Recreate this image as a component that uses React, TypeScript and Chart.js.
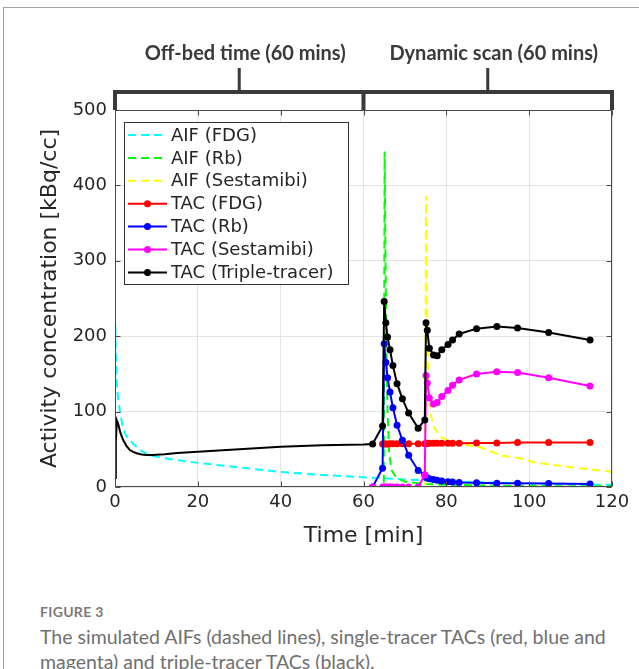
import React, { useEffect, useRef } from "react";
import { Chart, registerables } from "chart.js";

Chart.register(...registerables);

// ---------- data ----------
const xTicks = [0, 20, 40, 60, 80, 100, 120];
const yTicks = [0, 100, 200, 300, 400, 500];

const aifFdgTime = [0, 0.05, 0.2, 0.4, 0.8, 1.2, 1.8, 2.4, 3.2, 4.3, 6, 8.4, 12, 20, 30, 40, 50, 60, 70, 80, 90, 100, 110, 120];
const aifFdgValue = [0, 218, 175, 140, 115, 100, 82, 71, 64, 58, 49, 42, 38, 32, 26, 20, 16, 13, 10, 7.5, 6, 4.5, 3.5, 3];

const aifRbTime = [0, 64.9, 65.1, 65.3, 65.5, 65.8, 66.2, 66.8, 68, 70, 75, 80, 90, 100, 110, 120];
const aifRbValue = [0, 0, 445, 310, 190, 100, 45, 22, 12, 7, 4, 3, 2, 1.5, 1, 1];

const aifSestamibiTime = [0, 74.9, 75.1, 75.3, 75.6, 76, 76.9, 78.5, 81.7, 85.7, 88, 91, 93, 97.8, 101.8, 112.3, 120];
const aifSestamibiValue = [0, 0, 386, 250, 150, 102, 80, 67, 58, 55, 53, 47, 42, 38, 32, 25, 20];

// dynamic-scan frame mid times (min)
const frameTimes = [62.2, 64.6, 65.0, 65.4, 65.8, 66.4, 67.1, 68.1, 69.4, 70.9, 73.2, 74.8, 75.1, 75.4, 75.9, 76.9, 77.8, 78.9, 80.4, 81.5, 83.1, 87.3, 92.2, 97.2, 104.7, 114.7];
const tacFdg = [null, 57, 57, 57, 57, 57.5, 57.5, 57.5, 57.5, 57.5, 57.5, 57.5, 57.5, 58, 58, 58, 58, 58, 58, 58, 58, 58.5, 58.5, 59, 59, 59];
const tacRb = [0, 25, 190, 165, 145, 126, 105, 82, 62, 42, 22, 16, 13, 12, 11, 10, 9, 8, 7, 6.5, 6, 5.5, 5, 5, 4.5, 4];
const tacSestamibi = [0, 0, 0, 0, 0, 0, 0, 0, 0, 0, 0, 16, 148, 138, 118, 110, 112, 120, 128, 135, 142, 150, 153, 152, 145, 134];
const tacTriple = [57, 81, 246, 218, 199, 182, 161, 137, 117, 98, 78, 89, 218, 208, 184, 175, 174, 182, 189, 195, 203, 210, 213, 211, 205, 195];

// off-bed period (continuous triple-tracer curve, = FDG only)
const tripleEarlyTime = [0, 0.2, 0.45, 0.8, 1.3, 2, 2.8, 3.6, 4.4, 5.2, 6.4, 7.6, 9, 12, 15, 20, 30, 40, 50, 60];
const tripleEarlyValue = [12, 60, 88, 83, 72, 62, 54, 49, 46.5, 44.7, 43.2, 42.4, 42.5, 43.5, 45, 46.8, 50, 53.5, 55.5, 56.5];

const legendLabels = [
  "AIF (FDG)",
  "AIF (Rb)",
  "AIF (Sestamibi)",
  "TAC (FDG)",
  "TAC (Rb)",
  "TAC (Sestamibi)",
  "TAC (Triple-tracer)",
];
const seriesColors = ["#00ffff", "#00ff00", "#ffff00", "#ff0000", "#0000ff", "#ff00ff", "#000000"];
const seriesDashed = [true, true, true, false, false, false, false];

const bracketLabels = ["Off-bed time (60 mins)", "Dynamic scan (60 mins)"];
const bracketBounds = [0, 60, 120];

// ---------- helpers ----------
const pts = (xs: number[], ys: (number | null)[]) => xs.map((x, i) => ({ x, y: ys[i] }));
const DASH = [8, 5];

const overlayPlugin = {
  id: "overlay",
  afterDraw(chart: any) {
    const { ctx, chartArea: ca, scales } = chart;
    const xs = scales.x;
    const ys = scales.y;
    ctx.save();
    // box
    ctx.strokeStyle = "#4a4a4a";
    ctx.lineWidth = 1;
    ctx.setLineDash([]);
    const L = Math.round(ca.left) + 0.5;
    const R = Math.round(ca.right) - 0.5;
    const T = Math.round(ca.top) + 0.5;
    const B = Math.round(ca.bottom) - 0.5;
    ctx.strokeRect(L, T, R - L, B - T);
    // inward ticks
    ctx.beginPath();
    xTicks.forEach((v) => {
      const px = Math.round(xs.getPixelForValue(v)) + 0.5;
      ctx.moveTo(px, B);
      ctx.lineTo(px, B - 5);
      ctx.moveTo(px, T);
      ctx.lineTo(px, T + 5);
    });
    yTicks.forEach((v) => {
      const py = Math.round(ys.getPixelForValue(v)) + 0.5;
      ctx.moveTo(L, py);
      ctx.lineTo(L + 5, py);
      ctx.moveTo(R, py);
      ctx.lineTo(R - 5, py);
    });
    ctx.stroke();

    // bracket
    const p = bracketBounds.map((v) => xs.getPixelForValue(v));
    const by = ca.top - 18;
    ctx.strokeStyle = "#3a3a3a";
    ctx.lineWidth = 4;
    ctx.lineCap = "butt";
    ctx.beginPath();
    ctx.moveTo(p[0], ca.top);
    ctx.lineTo(p[0], by);
    ctx.lineTo(p[2], by);
    ctx.lineTo(p[2], ca.top);
    ctx.moveTo(p[1], by);
    ctx.lineTo(p[1], ca.top);
    ctx.stroke();
    ctx.lineWidth = 3;
    ctx.beginPath();
    for (let i = 0; i < 2; i++) {
      const mx = (p[i] + p[i + 1]) / 2;
      ctx.moveTo(mx, by);
      ctx.lineTo(mx, by - 24);
    }
    ctx.stroke();
    ctx.fillStyle = "#3a3a3a";
    ctx.font = "bold 20px Lato";
    ctx.textAlign = "center";
    ctx.textBaseline = "middle";
    for (let i = 0; i < 2; i++) {
      const mx = (p[i] + p[i + 1]) / 2;
      ctx.fillText(bracketLabels[i], mx + 6, by - 38);
    }

    // legend
    const lx = Math.round(ca.left) + 9;
    const ly = Math.round(ca.top) + 12;
    const lw = 224;
    const lh = 162;
    ctx.fillStyle = "#ffffff";
    ctx.fillRect(lx, ly, lw, lh);
    ctx.strokeStyle = "#333333";
    ctx.lineWidth = 1;
    ctx.strokeRect(lx + 0.5, ly + 0.5, lw, lh);
    ctx.font = "18px 'DejaVu Sans'";
    ctx.textAlign = "left";
    ctx.textBaseline = "middle";
    legendLabels.forEach((lab, i) => {
      const yy = ly + 13 + i * 22.9;
      ctx.strokeStyle = seriesColors[i];
      ctx.lineWidth = 2;
      ctx.setLineDash(seriesDashed[i] ? DASH : []);
      ctx.beginPath();
      ctx.moveTo(lx + 4, yy);
      ctx.lineTo(lx + 43, yy);
      ctx.stroke();
      ctx.setLineDash([]);
      if (!seriesDashed[i]) {
        ctx.fillStyle = seriesColors[i];
        ctx.beginPath();
        ctx.arc(lx + 23.5, yy, 3.5, 0, Math.PI * 2);
        ctx.fill();
      }
      ctx.fillStyle = "#262626";
      ctx.fillText(lab, lx + 47, yy + 1);
    });
    ctx.restore();
  },
};

export default function App() {
  const ref = useRef<HTMLCanvasElement | null>(null);

  useEffect(() => {
    if (!ref.current) return;
    Chart.defaults.font.family = "'DejaVu Sans'";
    const tacRadius = (arr: any[]) => arr.map(() => 3.5);
    const tripleData = [...pts(tripleEarlyTime, tripleEarlyValue), ...pts(frameTimes, tacTriple)];
    const tripleRadius = [...tripleEarlyTime.map(() => 0), ...frameTimes.map(() => 3.5)];
    const magData = [{ x: 0, y: 0 }, ...pts(frameTimes, tacSestamibi)];
    const magRadius = [0, ...frameTimes.map(() => 3.5)];

    const line = (label: string, i: number, data: any[], radius: any, order: number) => ({
      label,
      data,
      borderColor: seriesColors[i],
      backgroundColor: seriesColors[i],
      pointBackgroundColor: seriesColors[i],
      pointBorderColor: seriesColors[i],
      borderWidth: 2,
      borderDash: seriesDashed[i] ? DASH : [],
      pointRadius: radius,
      pointBorderWidth: 0,
      tension: 0,
      fill: false,
      spanGaps: false,
      order,
    });

    const chart = new Chart(ref.current, {
      type: "line",
      data: {
        datasets: [
          line(legendLabels[0], 0, pts(aifFdgTime, aifFdgValue), 0, 6),
          line(legendLabels[1], 1, pts(aifRbTime, aifRbValue), 0, 5),
          line(legendLabels[2], 2, pts(aifSestamibiTime, aifSestamibiValue), 0, 4),
          line(legendLabels[3], 3, pts(frameTimes, tacFdg), tacRadius(frameTimes), 3),
          line(legendLabels[4], 4, pts(frameTimes, tacRb), tacRadius(frameTimes), 2),
          line(legendLabels[5], 5, magData, magRadius, 1),
          line(legendLabels[6], 6, tripleData, tripleRadius, 0),
        ] as any,
      },
      options: {
        animation: false,
        responsive: false,
        devicePixelRatio: 1,
        layout: { padding: { left: 35, right: 27, top: 110, bottom: 0 } },
        plugins: { legend: { display: false }, tooltip: { enabled: false }, title: { display: false } },
        elements: { line: { capBezierPoints: false } },
        scales: {
          x: {
            type: "linear",
            min: 0,
            max: 120,
            afterBuildTicks: (s: any) => {
              s.ticks = xTicks.map((v) => ({ value: v }));
            },
            afterFit: (s: any) => {
              s.height = 73;
            },
            grid: { color: "#e4e4e4", lineWidth: 1, drawTicks: false },
            border: { display: false },
            ticks: { padding: 5, color: "#262626", font: { size: 18 }, maxRotation: 0 },
            title: {
              display: true,
              text: "Time [min]",
              color: "#262626",
              font: { size: 22 },
              padding: { top: 0, bottom: 11 },
            },
          },
          y: {
            type: "linear",
            min: 0,
            max: 500,
            afterBuildTicks: (s: any) => {
              s.ticks = yTicks.map((v) => ({ value: v }));
            },
            afterFit: (s: any) => {
              s.width = 80;
            },
            grid: { color: "#e4e4e4", lineWidth: 1, drawTicks: false },
            border: { display: false },
            ticks: { padding: 8, color: "#262626", font: { size: 18 } },
            title: {
              display: true,
              text: "Activity concentration [kBq/cc]",
              color: "#262626",
              font: { size: 22 },
              padding: { top: 2, bottom: 0 },
            },
          },
        },
      } as any,
      plugins: [overlayPlugin],
    });
    return () => chart.destroy();
  }, []);

  return (
    <div style={{ position: "absolute", left: 0, top: 0, width: 639, height: 669, background: "#fff", overflow: "hidden" }}>
      <div
        style={{
          position: "absolute",
          left: 3,
          top: 7,
          width: 700,
          height: 700,
          borderTop: "1px solid #a0a0a0",
          borderLeft: "1px solid #a0a0a0",
        }}
      />
      <canvas ref={ref} width={639} height={560} style={{ position: "absolute", left: 0, top: 0, width: 639, height: 560 }} />
      <div
        style={{
          position: "absolute",
          left: 40,
          top: 603,
          fontFamily: "Lato",
          fontWeight: 700,
          fontSize: 14,
          lineHeight: "18px",
          color: "#7a7a7a",
          letterSpacing: 0.3,
        }}
      >
        FIGURE 3
      </div>
      <div
        style={{
          position: "absolute",
          left: 40,
          top: 624,
          fontFamily: "Lato",
          fontSize: 19.5,
          lineHeight: "25px",
          color: "#707070",
          whiteSpace: "nowrap",
        }}
      >
        The simulated AIFs (dashed lines), single-tracer TACs (red, blue and
        <br />
        magenta) and triple-tracer TACs (black).
      </div>
    </div>
  );
}
